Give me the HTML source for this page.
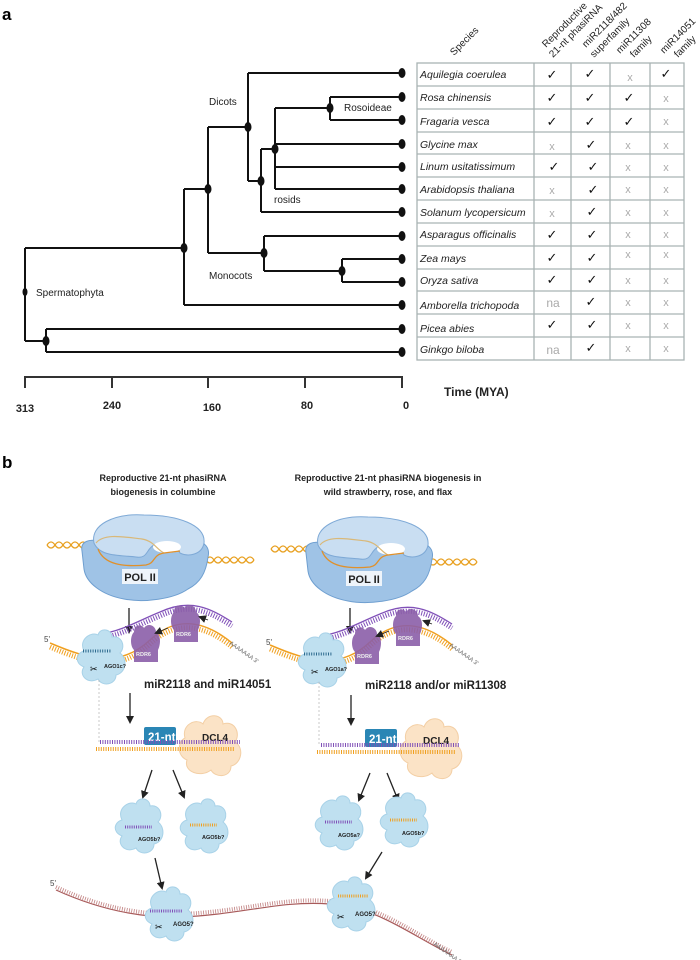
<!DOCTYPE html>
<html><head><meta charset="utf-8"><style>
html,body{margin:0;padding:0;background:#fff;}
svg{display:block;font-family:"Liberation Sans",Arial,sans-serif;}
.it{font-style:italic;font-size:10.5px;fill:#222;}
.ck{font-size:13px;fill:#111;}
.xx{font-size:11px;fill:#aaa;}
.na{font-size:12px;fill:#aaa;}
</style></head><body>
<svg width="700" height="960" viewBox="0 0 700 960" xmlns="http://www.w3.org/2000/svg">
<defs>
 <g id="cloud">
  <path d="M-18,-8 C-24,-20 -10,-28 -4,-24 C-2,-32 10,-30 10,-22 C20,-24 24,-12 18,-6 C26,0 24,14 14,16 C14,26 0,28 -4,20 C-14,26 -24,16 -18,8 C-28,4 -26,-6 -18,-8 Z" fill="#bfe0f0" stroke="#a8d2e8" stroke-width="1"/>
 </g>
 <g id="dcl">
  <path d="M-26,-10 C-30,-24 -14,-30 -8,-24 C-4,-36 12,-34 12,-24 C24,-28 30,-14 24,-6 C34,0 30,16 20,18 C20,30 4,30 0,22 C-10,30 -28,24 -24,12 C-34,8 -34,-6 -26,-10 Z" fill="#fbe3c6" stroke="#f3cfa5" stroke-width="1"/>
 </g>
 <g id="rdr">
  <path d="M-12,-14 C-12,-22 -4,-22 -2,-18 C2,-24 10,-20 10,-14 C16,-10 14,0 12,4 L12,16 L-12,16 L-12,4 C-16,0 -16,-10 -12,-14Z" fill="#8b5ea8" opacity="0.9"/>
 </g>
 <marker id="ah" markerWidth="8" markerHeight="8" refX="6" refY="4" orient="auto" markerUnits="userSpaceOnUse"><path d="M0,0 L8,4 L0,8 Z" fill="#222"/></marker>
 <g id="pol">
  <path d="M-2,38 C-4,28 6,26 14,28 L110,28 C122,28 126,36 124,44 C122,60 116,70 104,76 C90,86 60,90 40,86 C18,82 2,70 0,56 Z" fill="#9fc3e6" stroke="#6f9fd0" stroke-width="1"/>
  <path d="M10,30 C6,12 30,0 60,2 C94,2 122,12 120,30 C118,42 104,44 96,40 C92,32 80,28 70,32 C62,36 64,46 52,44 C36,42 16,44 10,30 Z" fill="#c9def2" stroke="#7ea9d6" stroke-width="1"/>
  <ellipse cx="83" cy="34" rx="14" ry="6" fill="#fff"/>
  <path d="M12,30 C20,20 40,24 58,26 C70,28 72,36 80,40" fill="none" stroke="#d9b878" stroke-width="1.2"/>
  <path d="M14,36 C20,52 40,54 62,52 C72,50 68,42 80,40 L96,38" fill="none" stroke="#e0902a" stroke-width="1.3"/>
  <rect x="38" y="56" width="36" height="15" fill="#eef4fa"/>
  <text x="56" y="68" font-size="11" font-weight="bold" text-anchor="middle" fill="#222">POL II</text>
 </g>
</defs>

<!-- PANEL A -->
<text x="2" y="20" font-size="17" font-weight="bold">a</text>
<g stroke="#111" stroke-width="2" fill="none">
 <!-- root -->
 <path d="M25,248 V341"/>
 <path d="M25,248 H184"/>
 <path d="M25,341 H46"/>
 <path d="M46,329 V352"/>
 <path d="M46,329 H402 M46,352 H402"/>
 <path d="M184,189 V305 M184,305 H402 M184,189 H208"/>
 <path d="M208,127 V253 M208,127 H248 M208,253 H264"/>
 <path d="M248,73 V181 M248,73 H402 M248,181 H261"/>
 <path d="M261,149 V212 M261,149 H275 M261,212 H402"/>
 <path d="M275,108 V189 M275,108 H330 M275,144 H402 M275,167 H402 M275,189 H402"/>
 <path d="M330,97 V120 M330,97 H402 M330,120 H402"/>
 <path d="M264,236 V271 M264,236 H402 M264,271 H342"/>
 <path d="M342,259 V282 M342,259 H402 M342,282 H402"/>
</g>
<g fill="#111">
 <ellipse cx="25" cy="292" rx="2.5" ry="4"/><ellipse cx="46" cy="341" rx="3.5" ry="5"/>
 <ellipse cx="184" cy="248" rx="3.5" ry="5"/><ellipse cx="208" cy="189" rx="3.5" ry="5"/>
 <ellipse cx="248" cy="127" rx="3.5" ry="5"/><ellipse cx="261" cy="181" rx="3.5" ry="5"/>
 <ellipse cx="275" cy="149" rx="3.5" ry="5"/><ellipse cx="330" cy="108" rx="3.5" ry="5"/>
 <ellipse cx="264" cy="253" rx="3.5" ry="5"/><ellipse cx="342" cy="271" rx="3.5" ry="5"/>
 <g>
  <ellipse cx="402" cy="73" rx="3.5" ry="5"/><ellipse cx="402" cy="97" rx="3.5" ry="5"/>
  <ellipse cx="402" cy="120" rx="3.5" ry="5"/><ellipse cx="402" cy="144" rx="3.5" ry="5"/>
  <ellipse cx="402" cy="167" rx="3.5" ry="5"/><ellipse cx="402" cy="189" rx="3.5" ry="5"/>
  <ellipse cx="402" cy="212" rx="3.5" ry="5"/><ellipse cx="402" cy="236" rx="3.5" ry="5"/>
  <ellipse cx="402" cy="259" rx="3.5" ry="5"/><ellipse cx="402" cy="282" rx="3.5" ry="5"/>
  <ellipse cx="402" cy="305" rx="3.5" ry="5"/><ellipse cx="402" cy="329" rx="3.5" ry="5"/>
  <ellipse cx="402" cy="352" rx="3.5" ry="5"/>
 </g>
</g>
<g font-size="10" fill="#222">
 <text x="209" y="105">Dicots</text>
 <text x="344" y="111">Rosoideae</text>
 <text x="274" y="203">rosids</text>
 <text x="209" y="279">Monocots</text>
 <text x="36" y="296">Spermatophyta</text>
</g>
<!-- axis -->
<g stroke="#333" stroke-width="2">
 <path d="M24,377 H403"/>
 <path d="M25,376 V388 M112,376 V388 M208,376 V388 M305,376 V388 M402,376 V388"/>
</g>
<g font-size="11" font-weight="bold" fill="#222" text-anchor="middle">
 <text x="25" y="412">313</text><text x="112" y="409">240</text><text x="212" y="411">160</text><text x="307" y="409">80</text><text x="406" y="409">0</text>
</g>
<text x="444" y="396" font-size="12" font-weight="bold" fill="#222">Time (MYA)</text>

<!-- table -->
<g stroke="#a9b3b3" stroke-width="1.3" fill="none">
 <rect x="417" y="63" width="267" height="297"/>
 <path d="M534,63 V360 M571,63 V360 M610,63 V360 M650,63 V360"/>
 <path d="M417,86 H684 M417,109 H684 M417,132 H684 M417,154 H684 M417,177 H684 M417,200 H684 M417,223 H684 M417,246 H684 M417,269 H684 M417,291 H684 M417,314 H684 M417,337 H684"/>
</g>
<g class="it">
 <text x="420" y="78">Aquilegia coerulea</text>
 <text x="420" y="101">Rosa chinensis</text>
 <text x="420" y="125">Fragaria vesca</text>
 <text x="420" y="148">Glycine max</text>
 <text x="420" y="170">Linum usitatissimum</text>
 <text x="420" y="193">Arabidopsis thaliana</text>
 <text x="420" y="216">Solanum lycopersicum</text>
 <text x="420" y="238">Asparagus officinalis</text>
 <text x="420" y="262">Zea mays</text>
 <text x="420" y="284">Oryza sativa</text>
 <text x="420" y="309">Amborella trichopoda</text>
 <text x="420" y="332">Picea abies</text>
 <text x="420" y="353">Ginkgo biloba</text>
</g>
<g text-anchor="middle">
 <text class="ck" x="552" y="79">✓</text><text class="ck" x="590" y="78">✓</text><text class="xx" x="630" y="81">x</text><text class="ck" x="666" y="78">✓</text>
 <text class="ck" x="552" y="102">✓</text><text class="ck" x="590" y="102">✓</text><text class="ck" x="629" y="102">✓</text><text class="xx" x="666" y="102">x</text>
 <text class="ck" x="552" y="126">✓</text><text class="ck" x="590" y="126">✓</text><text class="ck" x="629" y="126">✓</text><text class="xx" x="666" y="125">x</text>
 <text class="xx" x="552" y="150">x</text><text class="ck" x="591" y="149">✓</text><text class="xx" x="628" y="149">x</text><text class="xx" x="666" y="149">x</text>
 <text class="ck" x="554" y="171">✓</text><text class="ck" x="593" y="171">✓</text><text class="xx" x="628" y="171">x</text><text class="xx" x="666" y="171">x</text>
 <text class="xx" x="552" y="194">x</text><text class="ck" x="593" y="194">✓</text><text class="xx" x="628" y="193">x</text><text class="xx" x="666" y="193">x</text>
 <text class="xx" x="552" y="217">x</text><text class="ck" x="592" y="216">✓</text><text class="xx" x="628" y="216">x</text><text class="xx" x="666" y="216">x</text>
 <text class="ck" x="552" y="239">✓</text><text class="ck" x="592" y="239">✓</text><text class="xx" x="628" y="238">x</text><text class="xx" x="666" y="238">x</text>
 <text class="ck" x="552" y="262">✓</text><text class="ck" x="592" y="262">✓</text><text class="xx" x="628" y="258">x</text><text class="xx" x="666" y="258">x</text>
 <text class="ck" x="552" y="284">✓</text><text class="ck" x="592" y="284">✓</text><text class="xx" x="628" y="284">x</text><text class="xx" x="666" y="284">x</text>
 <text class="na" x="553" y="307">na</text><text class="ck" x="591" y="306">✓</text><text class="xx" x="628" y="306">x</text><text class="xx" x="666" y="306">x</text>
 <text class="ck" x="552" y="329">✓</text><text class="ck" x="592" y="329">✓</text><text class="xx" x="628" y="329">x</text><text class="xx" x="666" y="329">x</text>
 <text class="na" x="553" y="354">na</text><text class="ck" x="591" y="352">✓</text><text class="xx" x="628" y="352">x</text><text class="xx" x="666" y="352">x</text>
</g>
<g font-size="10" fill="#222">
 <text transform="translate(454,56) rotate(-45)">Species</text>
 <text transform="translate(546,48) rotate(-45)">Reproductive</text>
 <text transform="translate(553,58) rotate(-45)">21-nt phasiRNA</text>
 <text transform="translate(586,48) rotate(-45)">miR2118/482</text>
 <text transform="translate(594,58) rotate(-45)">superfamily</text>
 <text transform="translate(620,54) rotate(-45)">miR11308</text>
 <text transform="translate(634,58) rotate(-45)">family</text>
 <text transform="translate(664,54) rotate(-45)">miR14051</text>
 <text transform="translate(678,58) rotate(-45)">family</text>
</g>

<!-- PANEL B -->
<text x="2" y="468" font-size="17" font-weight="bold">b</text>
<g font-size="9" font-weight="bold" fill="#222" text-anchor="middle">
 <text x="163" y="481">Reproductive 21-nt phasiRNA</text>
 <text x="163" y="495">biogenesis in columbine</text>
 <text x="388" y="481">Reproductive 21-nt phasiRNA biogenesis in</text>
 <text x="388" y="495">wild strawberry, rose, and flax</text>
</g>

<!-- DNA helices -->
<g fill="none" stroke="#e8a020" stroke-width="1.3">
 <path d="M47,545 q4,-6 8,0 t8,0 t8,0 t8,0 t8,0 t8,0" />
 <path d="M47,545 q4,6 8,0 t8,0 t8,0 t8,0 t8,0 t8,0" />
 <path d="M190,560 q4,-6 8,0 t8,0 t8,0 t8,0 t8,0 t8,0 t8,0 t8,0" />
 <path d="M190,560 q4,6 8,0 t8,0 t8,0 t8,0 t8,0 t8,0 t8,0 t8,0" />
 <path d="M271,549 q4,-6 8,0 t8,0 t8,0 t8,0 t8,0 t8,0" />
 <path d="M271,549 q4,6 8,0 t8,0 t8,0 t8,0 t8,0 t8,0" />
 <path d="M413,562 q4,-6 8,0 t8,0 t8,0 t8,0 t8,0 t8,0 t8,0 t8,0" />
 <path d="M413,562 q4,6 8,0 t8,0 t8,0 t8,0 t8,0 t8,0 t8,0 t8,0" />
</g>
<use href="#pol" x="84" y="513"/>
<use href="#pol" x="308" y="515"/>

<!-- arrows -->
<g stroke="#222" stroke-width="1.3" marker-end="url(#ah)">
 <path d="M129,608 V632"/><path d="M350,608 V632"/>
 <path d="M130,693 V722"/><path d="M351,695 V724"/>
 <path d="M152,770 L143,797"/><path d="M173,770 L184,797"/>
 <path d="M370,773 L359,800"/><path d="M387,773 L398,800"/>
 <path d="M155,858 L162,888"/><path d="M382,852 L366,878"/>
</g>

<!-- RNA strands level 1 -->
<g fill="none">
 <path d="M50,643 C90,660 120,668 150,640 C180,612 210,625 232,643" stroke="#f0a020" stroke-width="1.5"/>
 <path d="M50,647 C90,664 120,672 150,644 C180,616 210,629 232,647" stroke="#f0a020" stroke-width="5" stroke-dasharray="1 1.6"/>
 <path d="M100,634 C120,632 140,620 160,612 C190,598 210,608 232,622" stroke="#8050b8" stroke-width="1.3"/>
 <path d="M100,638 C120,636 140,624 160,616 C190,602 210,612 232,626" stroke="#8050b8" stroke-width="5" stroke-dasharray="1 1.6"/>
 <path d="M270,645 C310,662 340,670 370,642 C400,614 430,627 452,645" stroke="#f0a020" stroke-width="1.5"/>
 <path d="M270,649 C310,666 340,674 370,646 C400,618 430,631 452,649" stroke="#f0a020" stroke-width="5" stroke-dasharray="1 1.6"/>
 <path d="M320,636 C340,634 360,622 380,614 C410,600 430,610 452,624" stroke="#8050b8" stroke-width="1.3"/>
 <path d="M320,640 C340,638 360,626 380,618 C410,604 430,614 452,628" stroke="#8050b8" stroke-width="5" stroke-dasharray="1 1.6"/>
</g>
<text x="44" y="642" font-size="8" fill="#444">5'</text>
<text x="266" y="645" font-size="8" fill="#444">5'</text>
<text transform="translate(229,644) rotate(35)" font-size="6" fill="#666">AAAAAAA 3'</text>
<text transform="translate(449,646) rotate(35)" font-size="6" fill="#666">AAAAAAA 3'</text>

<use href="#cloud" x="102" y="659"/>
<use href="#cloud" x="323" y="662"/>
<path d="M83,651 h28" stroke="#2d6a8e" stroke-width="3" stroke-dasharray="1 1.4"/>
<path d="M304,654 h28" stroke="#2d6a8e" stroke-width="3" stroke-dasharray="1 1.4"/>
<text x="104" y="668" font-size="5.5" font-weight="bold" fill="#222">AGO1c?</text>
<text x="325" y="671" font-size="5.5" font-weight="bold" fill="#222">AGO1a?</text>
<text x="90" y="672" font-size="9">✂</text><text x="311" y="675" font-size="9">✂</text>

<use href="#rdr" x="146" y="646"/>
<use href="#rdr" x="186" y="626"/>
<use href="#rdr" x="367" y="648"/>
<use href="#rdr" x="408" y="630"/>
<g font-size="5.5" font-weight="bold" fill="#eee">
 <text x="136" y="656">RDR6</text><text x="176" y="636">RDR6</text>
 <text x="357" y="658">RDR6</text><text x="398" y="640">RDR6</text>
</g>
<g stroke="#222" stroke-width="0.8" marker-end="url(#ah)">
 <path d="M168,628 L156,633"/><path d="M208,620 L200,617"/>
 <path d="M389,631 L377,636"/><path d="M432,624 L424,621"/>
</g>

<g font-size="11.5" font-weight="bold" fill="#222">
 <text x="144" y="688">miR2118 and miR14051</text>
 <text x="365" y="689">miR2118 and/or miR11308</text>
</g>
<path d="M99,680 V744" stroke="#bbb" stroke-width="0.8" stroke-dasharray="2 2"/>
<path d="M319,682 V746" stroke="#bbb" stroke-width="0.8" stroke-dasharray="2 2"/>

<!-- DCL4 level -->
<use href="#dcl" x="211" y="748"/>
<use href="#dcl" x="432" y="751"/>
<text x="202" y="741" font-size="10" font-weight="bold" fill="#222">DCL4</text>
<text x="423" y="744" font-size="10" font-weight="bold" fill="#222">DCL4</text>
<rect x="144" y="727" width="32" height="18" rx="2" fill="#2a86b5"/>
<rect x="365" y="729" width="32" height="18" rx="2" fill="#2a86b5"/>
<text x="148" y="741" font-size="11.5" font-weight="bold" fill="#fff">21-nt</text>
<text x="369" y="743" font-size="11.5" font-weight="bold" fill="#fff">21-nt</text>
<g fill="none">
 <path d="M100,742 H240" stroke="#8050b8" stroke-width="4" stroke-dasharray="1 1.4"/>
 <path d="M96,749 H234" stroke="#f0a020" stroke-width="4" stroke-dasharray="1 1.4"/>
 <path d="M321,745 H460" stroke="#8050b8" stroke-width="4" stroke-dasharray="1 1.4"/>
 <path d="M317,752 H455" stroke="#f0a020" stroke-width="4" stroke-dasharray="1 1.4"/>
</g>

<!-- AGO level -->
<use href="#cloud" x="140" y="828"/>
<use href="#cloud" x="205" y="828"/>
<use href="#cloud" x="340" y="825"/>
<use href="#cloud" x="405" y="822"/>
<path d="M125,827 h27" stroke="#8050b8" stroke-width="3" stroke-dasharray="1 1.2"/>
<path d="M190,825 h27" stroke="#f0a020" stroke-width="3" stroke-dasharray="1 1.2"/>
<path d="M325,822 h27" stroke="#8050b8" stroke-width="3" stroke-dasharray="1 1.2"/>
<path d="M390,820 h27" stroke="#f0a020" stroke-width="3" stroke-dasharray="1 1.2"/>
<g font-size="5.5" font-weight="bold" fill="#222">
 <text x="138" y="841">AGO5b?</text><text x="202" y="839">AGO5b?</text>
 <text x="338" y="837">AGO5a?</text><text x="402" y="835">AGO5b?</text>
</g>

<!-- bottom mRNA -->
<text x="50" y="886" font-size="8" fill="#444">5'</text>
<path d="M56,890 C100,910 140,918 180,917 C240,915 280,900 330,904 C380,908 410,935 452,955" fill="none" stroke="#a85a5a" stroke-width="1.2"/>
<path d="M56,887 C100,907 140,915 180,914 C240,912 280,897 330,901 C380,905 410,932 452,952" fill="none" stroke="#c08080" stroke-width="4" stroke-dasharray="0.8 1.6"/>
<use href="#cloud" x="170" y="916"/>
<use href="#cloud" x="352" y="906"/>
<path d="M150,911 h32" stroke="#8050b8" stroke-width="3" stroke-dasharray="1 1.2"/>
<path d="M338,896 h30" stroke="#f0a020" stroke-width="3" stroke-dasharray="1 1.2"/>
<text x="173" y="926" font-size="6" font-weight="bold" fill="#222">AGO5?</text>
<text x="355" y="916" font-size="6" font-weight="bold" fill="#222">AGO5?</text>
<text x="155" y="930" font-size="9">✂</text><text x="337" y="920" font-size="9">✂</text>
<text transform="translate(433,945) rotate(35)" font-size="6" fill="#666">AAAAAAA 3'</text>
</svg>
</body></html>
